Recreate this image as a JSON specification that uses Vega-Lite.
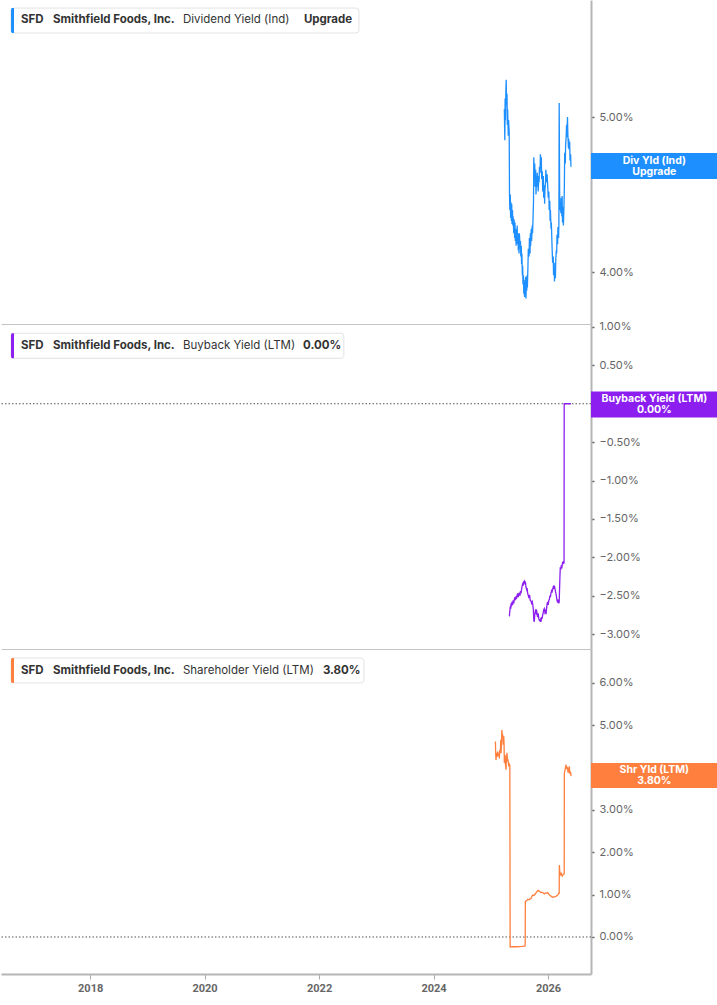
{
  "$schema": "https://vega.github.io/schema/vega-lite/v6.json",
  "padding": 0,
  "background": "white",
  "spacing": 0,
  "bounds": "flush",
  "config": {
    "font": "Inter",
    "view": {"stroke": null},
    "axis": {"grid": false},
    "axisY": {"domainColor": "#b5b5b5", "domainWidth": 2, "tickColor": "#666", "tickSize": 3, "tickWidth": 1.5, "labelPadding": 5, "labelFont": "Inter", "labelFontSize": 11, "labelColor": "#666"},
    "axisX": {"domainColor": "#c4c4c4", "domainWidth": 1}
  },
  "datasets": {
    "div": [
      {"d":"2025-03-28","v":5.05},{"d":"2025-03-31","v":4.85},{"d":"2025-04-02","v":5.12},{"d":"2025-04-04","v":4.98},{"d":"2025-04-07","v":5.18},{"d":"2025-04-09","v":5.24},{"d":"2025-04-11","v":5.08},{"d":"2025-04-14","v":5.15},{"d":"2025-04-16","v":4.95},{"d":"2025-04-18","v":5.05},{"d":"2025-04-22","v":4.88},{"d":"2025-04-24","v":4.98},{"d":"2025-04-28","v":4.90},
      {"d":"2025-04-30","v":4.50},{"d":"2025-05-02","v":4.40},{"d":"2025-05-05","v":4.50},{"d":"2025-05-07","v":4.35},{"d":"2025-05-09","v":4.45},{"d":"2025-05-12","v":4.33},{"d":"2025-05-14","v":4.44},{"d":"2025-05-16","v":4.31},{"d":"2025-05-19","v":4.40},{"d":"2025-05-21","v":4.30},{"d":"2025-05-23","v":4.36},{"d":"2025-05-27","v":4.25},{"d":"2025-05-29","v":4.34},
      {"d":"2025-06-02","v":4.22},{"d":"2025-06-04","v":4.32},{"d":"2025-06-06","v":4.20},{"d":"2025-06-09","v":4.28},{"d":"2025-06-11","v":4.17},{"d":"2025-06-13","v":4.26},{"d":"2025-06-16","v":4.21},{"d":"2025-06-18","v":4.30},{"d":"2025-06-20","v":4.18},{"d":"2025-06-23","v":4.25},{"d":"2025-06-25","v":4.14},{"d":"2025-06-27","v":4.22},{"d":"2025-06-30","v":4.12},
      {"d":"2025-07-02","v":4.25},{"d":"2025-07-07","v":4.15},{"d":"2025-07-09","v":4.20},{"d":"2025-07-11","v":4.10},{"d":"2025-07-14","v":4.17},{"d":"2025-07-16","v":4.05},{"d":"2025-07-18","v":4.12},{"d":"2025-07-21","v":3.98},{"d":"2025-07-23","v":4.04},{"d":"2025-07-25","v":3.92},{"d":"2025-07-28","v":3.98},{"d":"2025-07-30","v":3.86},
      {"d":"2025-08-01","v":3.95},{"d":"2025-08-04","v":3.84},{"d":"2025-08-06","v":3.93},{"d":"2025-08-08","v":3.87},{"d":"2025-08-11","v":3.97},{"d":"2025-08-13","v":3.83},{"d":"2025-08-15","v":3.92},{"d":"2025-08-18","v":3.88},{"d":"2025-08-20","v":3.98},{"d":"2025-08-22","v":3.90},{"d":"2025-08-26","v":4.05},{"d":"2025-08-28","v":4.15},
      {"d":"2025-09-02","v":4.10},{"d":"2025-09-04","v":4.22},{"d":"2025-09-08","v":4.12},{"d":"2025-09-10","v":4.25},{"d":"2025-09-12","v":4.17},{"d":"2025-09-16","v":4.28},{"d":"2025-09-18","v":4.20},{"d":"2025-09-22","v":4.30},{"d":"2025-09-24","v":4.25},{"d":"2025-09-26","v":4.31},{"d":"2025-09-30","v":4.45},
      {"d":"2025-10-02","v":4.74},{"d":"2025-10-06","v":4.60},{"d":"2025-10-08","v":4.70},{"d":"2025-10-10","v":4.55},{"d":"2025-10-14","v":4.66},{"d":"2025-10-16","v":4.50},{"d":"2025-10-20","v":4.62},{"d":"2025-10-22","v":4.55},{"d":"2025-10-24","v":4.64},{"d":"2025-10-28","v":4.57},{"d":"2025-10-30","v":4.52},
      {"d":"2025-11-03","v":4.62},{"d":"2025-11-05","v":4.58},{"d":"2025-11-07","v":4.68},{"d":"2025-11-11","v":4.64},{"d":"2025-11-13","v":4.76},{"d":"2025-11-17","v":4.70},{"d":"2025-11-19","v":4.74},{"d":"2025-11-21","v":4.60},{"d":"2025-11-25","v":4.65},{"d":"2025-11-28","v":4.52},
      {"d":"2025-12-02","v":4.62},{"d":"2025-12-04","v":4.48},{"d":"2025-12-08","v":4.56},{"d":"2025-12-10","v":4.44},{"d":"2025-12-12","v":4.53},{"d":"2025-12-16","v":4.58},{"d":"2025-12-18","v":4.66},{"d":"2025-12-22","v":4.58},{"d":"2025-12-26","v":4.63},{"d":"2025-12-30","v":4.55},
      {"d":"2026-01-02","v":4.48},{"d":"2026-01-06","v":4.52},{"d":"2026-01-08","v":4.40},{"d":"2026-01-12","v":4.46},{"d":"2026-01-14","v":4.33},{"d":"2026-01-16","v":4.40},{"d":"2026-01-20","v":4.28},{"d":"2026-01-22","v":4.32},{"d":"2026-01-26","v":4.18},{"d":"2026-01-28","v":4.12},{"d":"2026-01-30","v":4.06},
      {"d":"2026-02-03","v":4.10},{"d":"2026-02-05","v":3.98},{"d":"2026-02-09","v":4.06},{"d":"2026-02-11","v":3.94},{"d":"2026-02-13","v":4.02},{"d":"2026-02-17","v":3.96},{"d":"2026-02-19","v":4.08},{"d":"2026-02-23","v":4.14},{"d":"2026-02-25","v":4.12},{"d":"2026-02-27","v":4.24},
      {"d":"2026-03-03","v":4.18},{"d":"2026-03-05","v":4.29},{"d":"2026-03-09","v":4.22},{"d":"2026-03-11","v":4.30},{"d":"2026-03-13","v":5.09},{"d":"2026-03-16","v":4.50},{"d":"2026-03-18","v":4.40},{"d":"2026-03-20","v":4.44},{"d":"2026-03-24","v":4.38},{"d":"2026-03-26","v":4.48},{"d":"2026-03-30","v":4.36},
      {"d":"2026-04-01","v":4.49},{"d":"2026-04-03","v":4.32},{"d":"2026-04-07","v":4.42},{"d":"2026-04-09","v":4.30},{"d":"2026-04-13","v":4.45},{"d":"2026-04-15","v":4.55},{"d":"2026-04-17","v":4.77},{"d":"2026-04-21","v":4.70},{"d":"2026-04-23","v":4.82},{"d":"2026-04-27","v":4.88},{"d":"2026-04-29","v":4.95},
      {"d":"2026-05-01","v":4.87},{"d":"2026-05-05","v":5.00},{"d":"2026-05-07","v":4.90},{"d":"2026-05-11","v":4.80},{"d":"2026-05-13","v":4.86},{"d":"2026-05-15","v":4.79},{"d":"2026-05-19","v":4.84},{"d":"2026-05-21","v":4.72},{"d":"2026-05-25","v":4.76},{"d":"2026-05-27","v":4.68}
    ],
    "bb": [
      {"d":"2025-04-29","v":-2.77},{"d":"2025-05-02","v":-2.70},{"d":"2025-05-05","v":-2.64},{"d":"2025-05-08","v":-2.67},{"d":"2025-05-10","v":-2.60},{"d":"2025-05-13","v":-2.64},{"d":"2025-05-16","v":-2.58},{"d":"2025-05-20","v":-2.62},{"d":"2025-05-23","v":-2.56},{"d":"2025-05-27","v":-2.60},{"d":"2025-05-31","v":-2.55},
      {"d":"2025-06-04","v":-2.52},{"d":"2025-06-07","v":-2.56},{"d":"2025-06-10","v":-2.51},{"d":"2025-06-14","v":-2.54},{"d":"2025-06-18","v":-2.49},{"d":"2025-06-21","v":-2.47},{"d":"2025-06-25","v":-2.52},{"d":"2025-06-28","v":-2.49},
      {"d":"2025-07-02","v":-2.46},{"d":"2025-07-06","v":-2.50},{"d":"2025-07-09","v":-2.44},{"d":"2025-07-12","v":-2.47},{"d":"2025-07-16","v":-2.42},{"d":"2025-07-19","v":-2.38},{"d":"2025-07-23","v":-2.35},{"d":"2025-07-26","v":-2.37},{"d":"2025-07-30","v":-2.32},
      {"d":"2025-08-03","v":-2.31},{"d":"2025-08-06","v":-2.34},{"d":"2025-08-10","v":-2.33},{"d":"2025-08-13","v":-2.39},{"d":"2025-08-17","v":-2.42},{"d":"2025-08-20","v":-2.40},{"d":"2025-08-24","v":-2.47},{"d":"2025-08-28","v":-2.50},
      {"d":"2025-09-01","v":-2.53},{"d":"2025-09-05","v":-2.49},{"d":"2025-09-09","v":-2.56},{"d":"2025-09-14","v":-2.57},{"d":"2025-09-18","v":-2.60},{"d":"2025-09-22","v":-2.58},{"d":"2025-09-25","v":-2.61},{"d":"2025-09-29","v":-2.68},
      {"d":"2025-10-02","v":-2.82},{"d":"2025-10-05","v":-2.84},{"d":"2025-10-08","v":-2.75},{"d":"2025-10-12","v":-2.70},{"d":"2025-10-16","v":-2.72},{"d":"2025-10-19","v":-2.68},{"d":"2025-10-23","v":-2.74},{"d":"2025-10-26","v":-2.78},{"d":"2025-10-30","v":-2.73},
      {"d":"2025-11-03","v":-2.80},{"d":"2025-11-06","v":-2.82},{"d":"2025-11-10","v":-2.83},{"d":"2025-11-14","v":-2.81},{"d":"2025-11-17","v":-2.84},{"d":"2025-11-21","v":-2.78},{"d":"2025-11-24","v":-2.80},{"d":"2025-11-27","v":-2.76},
      {"d":"2025-12-01","v":-2.72},{"d":"2025-12-05","v":-2.68},{"d":"2025-12-08","v":-2.67},{"d":"2025-12-12","v":-2.72},{"d":"2025-12-16","v":-2.70},{"d":"2025-12-19","v":-2.74},{"d":"2025-12-23","v":-2.66},{"d":"2025-12-26","v":-2.61},{"d":"2025-12-29","v":-2.58},
      {"d":"2026-01-02","v":-2.62},{"d":"2026-01-06","v":-2.56},{"d":"2026-01-09","v":-2.55},{"d":"2026-01-13","v":-2.50},{"d":"2026-01-16","v":-2.52},{"d":"2026-01-19","v":-2.47},{"d":"2026-01-23","v":-2.44},{"d":"2026-01-26","v":-2.46},{"d":"2026-01-30","v":-2.42},
      {"d":"2026-02-03","v":-2.39},{"d":"2026-02-06","v":-2.41},{"d":"2026-02-10","v":-2.37},{"d":"2026-02-13","v":-2.40},{"d":"2026-02-17","v":-2.44},{"d":"2026-02-20","v":-2.47},{"d":"2026-02-24","v":-2.52},{"d":"2026-02-27","v":-2.56},
      {"d":"2026-03-03","v":-2.59},{"d":"2026-03-06","v":-2.55},{"d":"2026-03-10","v":-2.60},{"d":"2026-03-13","v":-2.58},{"d":"2026-03-17","v":-2.30},{"d":"2026-03-20","v":-2.13},{"d":"2026-03-24","v":-2.16},{"d":"2026-03-27","v":-2.10},{"d":"2026-03-31","v":-2.12},
      {"d":"2026-04-04","v":-2.06},{"d":"2026-04-07","v":-2.09},{"d":"2026-04-10","v":-2.05},{"d":"2026-04-13","v":-2.08},{"d":"2026-04-14","v":0.00},{"d":"2026-04-20","v":0.00},{"d":"2026-05-27","v":0.00}
    ],
    "shr": [
      {"d":"2025-01-30","v":4.62},{"d":"2025-02-01","v":4.30},{"d":"2025-02-03","v":4.18},{"d":"2025-02-06","v":4.35},{"d":"2025-02-10","v":4.26},{"d":"2025-02-14","v":4.38},{"d":"2025-02-18","v":4.28},{"d":"2025-02-21","v":4.33},{"d":"2025-02-24","v":4.22},{"d":"2025-02-27","v":4.42},
      {"d":"2025-03-03","v":4.36},{"d":"2025-03-05","v":4.66},{"d":"2025-03-07","v":4.34},{"d":"2025-03-10","v":4.60},{"d":"2025-03-12","v":4.89},{"d":"2025-03-14","v":4.80},{"d":"2025-03-17","v":4.78},{"d":"2025-03-19","v":4.72},{"d":"2025-03-21","v":4.54},{"d":"2025-03-24","v":4.74},{"d":"2025-03-26","v":4.60},{"d":"2025-03-28","v":4.11},{"d":"2025-03-31","v":4.22},
      {"d":"2025-04-02","v":4.30},{"d":"2025-04-04","v":4.08},{"d":"2025-04-08","v":3.95},{"d":"2025-04-10","v":4.20},{"d":"2025-04-14","v":4.35},{"d":"2025-04-17","v":4.15},{"d":"2025-04-19","v":4.20},{"d":"2025-04-23","v":4.10},{"d":"2025-04-25","v":4.03},{"d":"2025-04-29","v":4.08},
      {"d":"2025-05-02","v":4.05},{"d":"2025-05-04","v":-0.23},{"d":"2025-06-15","v":-0.23},{"d":"2025-07-20","v":-0.22},{"d":"2025-08-08","v":-0.21},
      {"d":"2025-08-09","v":0.84},{"d":"2025-08-18","v":0.86},{"d":"2025-08-25","v":0.89},{"d":"2025-09-01","v":0.88},{"d":"2025-09-08","v":0.90},{"d":"2025-09-14","v":0.91},{"d":"2025-09-20","v":0.96},{"d":"2025-09-25","v":0.99},
      {"d":"2025-10-03","v":0.98},{"d":"2025-10-10","v":1.01},{"d":"2025-10-17","v":1.05},{"d":"2025-10-24","v":1.08},{"d":"2025-10-28","v":1.10},{"d":"2025-11-03","v":1.09},{"d":"2025-11-10","v":1.07},{"d":"2025-11-17","v":1.05},{"d":"2025-11-24","v":1.06},
      {"d":"2025-12-01","v":1.04},{"d":"2025-12-08","v":1.02},{"d":"2025-12-15","v":1.04},{"d":"2025-12-22","v":1.03},{"d":"2025-12-30","v":1.05},{"d":"2026-01-06","v":1.01},{"d":"2026-01-14","v":0.98},{"d":"2026-01-22","v":0.96},{"d":"2026-01-31","v":0.94},
      {"d":"2026-02-10","v":0.95},{"d":"2026-02-20","v":0.96},{"d":"2026-03-04","v":0.99},{"d":"2026-03-10","v":1.03},{"d":"2026-03-13","v":1.03},{"d":"2026-03-14","v":1.70},{"d":"2026-03-17","v":1.52},{"d":"2026-03-20","v":1.47},{"d":"2026-03-25","v":1.51},
      {"d":"2026-04-01","v":1.44},{"d":"2026-04-08","v":1.48},{"d":"2026-04-14","v":1.49},{"d":"2026-04-15","v":3.87},{"d":"2026-04-18","v":3.92},{"d":"2026-04-22","v":4.00},{"d":"2026-04-26","v":4.07},{"d":"2026-04-29","v":3.97},
      {"d":"2026-05-03","v":4.02},{"d":"2026-05-06","v":3.95},{"d":"2026-05-10","v":3.88},{"d":"2026-05-13","v":3.98},{"d":"2026-05-17","v":4.03},{"d":"2026-05-20","v":3.85},{"d":"2026-05-24","v":3.91},{"d":"2026-05-28","v":3.80}
    ]
  },
  "vconcat": [
    {
      "width": 590, "height": 324,
      "layer": [
        {"data": {"values": [{}]}, "mark": {"type": "rect", "fill": "white", "stroke": "#e2e2e2", "strokeWidth": 1, "cornerRadius": 3},
         "encoding": {"x": {"datum": {"year": 2016, "month": 8, "date": 14}, "type": "temporal"}, "x2": {"datum": {"year": 2022, "month": 9, "date": 12}}, "y": {"datum": 5.703}, "y2": {"datum": 5.542}}},
        {"data": {"values": [{}]}, "mark": {"type": "rect", "fill": "#1e8fff", "cornerRadiusTopLeft": 2, "cornerRadiusBottomLeft": 2},
         "encoding": {"x": {"datum": {"year": 2016, "month": 8, "date": 14}, "type": "temporal"}, "x2": {"datum": {"year": 2016, "month": 9, "date": 2}}, "y": {"datum": 5.703}, "y2": {"datum": 5.542}}},
        {"data": {"values": [{}]}, "mark": {"type": "text", "text": "SFD", "fontWeight": "bold", "fontSize": 11.5, "align": "left", "baseline": "middle", "color": "#333"},
         "encoding": {"x": {"datum": {"year": 2016, "month": 10, "date": 17}, "type": "temporal"}, "y": {"datum": 5.623}}},
        {"data": {"values": [{}]}, "mark": {"type": "text", "text": "Smithfield Foods, Inc.", "fontWeight": "bold", "fontSize": 11.5, "align": "left", "baseline": "middle", "color": "#333"},
         "encoding": {"x": {"datum": {"year": 2017, "month": 5, "date": 9}, "type": "temporal"}, "y": {"datum": 5.623}}},
        {"data": {"values": [{}]}, "mark": {"type": "text", "text": "Dividend Yield (Ind)", "fontSize": 11.5, "align": "left", "baseline": "middle", "color": "#333"},
         "encoding": {"x": {"datum": {"year": 2019, "month": 8, "date": 16}, "type": "temporal"}, "y": {"datum": 5.623}}},
        {"data": {"values": [{}]}, "mark": {"type": "text", "text": "Upgrade", "fontWeight": "bold", "fontSize": 11.5, "align": "left", "baseline": "middle", "color": "#333"},
         "encoding": {"x": {"datum": {"year": 2021, "month": 9, "date": 26}, "type": "temporal"}, "y": {"datum": 5.623}}},
        {"data": {"name": "div"}, "mark": {"type": "line", "strokeWidth": 1.3, "color": "#1e8fff"},
         "encoding": {
           "x": {"field": "d", "type": "temporal", "scale": {"domain": [{"year": 2016, "month": 6, "date": 11}, {"year": 2026, "month": 10, "date": 2}]}, "axis": {"title": null, "labels": false, "ticks": false}},
           "y": {"field": "v", "type": "quantitative", "scale": {"domain": [3.665, 5.755], "nice": false, "zero": false}, "axis": {"title": null, "orient": "right", "values": [4, 5], "labelExpr": "format(datum.value, '.2f') + '%'"}}
         }},
        {"data": {"values": [{}]}, "mark": {"type": "rect", "fill": "#1e8fff"},
         "encoding": {"x": {"datum": {"year": 2026, "month": 10, "date": 2}, "type": "temporal"}, "x2": {"datum": {"year": 2028, "month": 12, "date": 19}}, "y": {"datum": 4.768}, "y2": {"datum": 4.600}}},
        {"data": {"values": [{}]}, "mark": {"type": "text", "text": "Div Yld (Ind)", "fontWeight": "bold", "fontSize": 10.5, "align": "center", "baseline": "middle", "color": "white", "dy": -5.5},
         "encoding": {"x": {"datum": {"year": 2027, "month": 11, "date": 10}, "type": "temporal"}, "y": {"datum": 4.684}}},
        {"data": {"values": [{}]}, "mark": {"type": "text", "text": "Upgrade", "fontWeight": "bold", "fontSize": 10.5, "align": "center", "baseline": "middle", "color": "white", "dy": 5.5},
         "encoding": {"x": {"datum": {"year": 2027, "month": 11, "date": 10}, "type": "temporal"}, "y": {"datum": 4.684}}}
      ]
    },
    {
      "width": 590, "height": 325,
      "layer": [
        {"data": {"values": [{}]}, "mark": {"type": "rect", "fill": "white", "stroke": "#e2e2e2", "strokeWidth": 1, "cornerRadius": 3},
         "encoding": {"x": {"datum": {"year": 2016, "month": 8, "date": 14}, "type": "temporal"}, "x2": {"datum": {"year": 2022, "month": 6, "date": 8}}, "y": {"datum": 0.918}, "y2": {"datum": 0.592}}},
        {"data": {"values": [{}]}, "mark": {"type": "rect", "fill": "#8c1ef0", "cornerRadiusTopLeft": 2, "cornerRadiusBottomLeft": 2},
         "encoding": {"x": {"datum": {"year": 2016, "month": 8, "date": 14}, "type": "temporal"}, "x2": {"datum": {"year": 2016, "month": 9, "date": 2}}, "y": {"datum": 0.918}, "y2": {"datum": 0.592}}},
        {"data": {"values": [{}]}, "mark": {"type": "text", "text": "SFD", "fontWeight": "bold", "fontSize": 11.5, "align": "left", "baseline": "middle", "color": "#333"},
         "encoding": {"x": {"datum": {"year": 2016, "month": 10, "date": 17}, "type": "temporal"}, "y": {"datum": 0.755}}},
        {"data": {"values": [{}]}, "mark": {"type": "text", "text": "Smithfield Foods, Inc.", "fontWeight": "bold", "fontSize": 11.5, "align": "left", "baseline": "middle", "color": "#333"},
         "encoding": {"x": {"datum": {"year": 2017, "month": 5, "date": 9}, "type": "temporal"}, "y": {"datum": 0.755}}},
        {"data": {"values": [{}]}, "mark": {"type": "text", "text": "Buyback Yield (LTM)", "fontSize": 11.5, "align": "left", "baseline": "middle", "color": "#333"},
         "encoding": {"x": {"datum": {"year": 2019, "month": 8, "date": 16}, "type": "temporal"}, "y": {"datum": 0.755}}},
        {"data": {"values": [{}]}, "mark": {"type": "text", "text": "0.00%", "fontWeight": "bold", "fontSize": 11.5, "align": "left", "baseline": "middle", "color": "#333"},
         "encoding": {"x": {"datum": {"year": 2021, "month": 9, "date": 20}, "type": "temporal"}, "y": {"datum": 0.755}}},
        {"data": {"values": [{}]}, "mark": {"type": "rule", "color": "#555", "strokeWidth": 1, "strokeDash": [1.5, 2]},
         "encoding": {"y": {"datum": 0}}},
        {"data": {"name": "bb"}, "mark": {"type": "line", "strokeWidth": 1.3, "color": "#8c1ef0"},
         "encoding": {
           "x": {"field": "d", "type": "temporal", "scale": {"domain": [{"year": 2016, "month": 6, "date": 11}, {"year": 2026, "month": 10, "date": 2}]}, "axis": {"title": null, "labels": false, "ticks": false}},
           "y": {"field": "v", "type": "quantitative", "scale": {"domain": [-3.195, 1.039], "nice": false, "zero": false}, "axis": {"title": null, "orient": "right", "values": [1, 0.5, -0.5, -1, -1.5, -2, -2.5, -3], "labelExpr": "format(datum.value, '.2f') + '%'"}}
         }},
        {"data": {"values": [{}]}, "mark": {"type": "rect", "fill": "#8c1ef0"},
         "encoding": {"x": {"datum": {"year": 2026, "month": 10, "date": 2}, "type": "temporal"}, "x2": {"datum": {"year": 2028, "month": 12, "date": 19}}, "y": {"datum": 0.16}, "y2": {"datum": -0.18}}},
        {"data": {"values": [{}]}, "mark": {"type": "text", "text": "Buyback Yield (LTM)", "fontWeight": "bold", "fontSize": 10.5, "align": "center", "baseline": "middle", "color": "white", "dy": -5.5},
         "encoding": {"x": {"datum": {"year": 2027, "month": 11, "date": 10}, "type": "temporal"}, "y": {"datum": -0.01}}},
        {"data": {"values": [{}]}, "mark": {"type": "text", "text": "0.00%", "fontWeight": "bold", "fontSize": 10.5, "align": "center", "baseline": "middle", "color": "white", "dy": 5.5},
         "encoding": {"x": {"datum": {"year": 2027, "month": 11, "date": 10}, "type": "temporal"}, "y": {"datum": -0.01}}}
      ]
    },
    {
      "width": 590, "height": 325,
      "layer": [
        {"data": {"values": [{}]}, "mark": {"type": "rect", "fill": "white", "stroke": "#e2e2e2", "strokeWidth": 1, "cornerRadius": 3},
         "encoding": {"x": {"datum": {"year": 2016, "month": 8, "date": 14}, "type": "temporal"}, "x2": {"datum": {"year": 2022, "month": 10, "date": 14}}, "y": {"datum": 6.590}, "y2": {"datum": 6.000}}},
        {"data": {"values": [{}]}, "mark": {"type": "rect", "fill": "#ff7f3f", "cornerRadiusTopLeft": 2, "cornerRadiusBottomLeft": 2},
         "encoding": {"x": {"datum": {"year": 2016, "month": 8, "date": 14}, "type": "temporal"}, "x2": {"datum": {"year": 2016, "month": 9, "date": 2}}, "y": {"datum": 6.590}, "y2": {"datum": 6.000}}},
        {"data": {"values": [{}]}, "mark": {"type": "text", "text": "SFD", "fontWeight": "bold", "fontSize": 11.5, "align": "left", "baseline": "middle", "color": "#333"},
         "encoding": {"x": {"datum": {"year": 2016, "month": 10, "date": 17}, "type": "temporal"}, "y": {"datum": 6.295}}},
        {"data": {"values": [{}]}, "mark": {"type": "text", "text": "Smithfield Foods, Inc.", "fontWeight": "bold", "fontSize": 11.5, "align": "left", "baseline": "middle", "color": "#333"},
         "encoding": {"x": {"datum": {"year": 2017, "month": 5, "date": 9}, "type": "temporal"}, "y": {"datum": 6.295}}},
        {"data": {"values": [{}]}, "mark": {"type": "text", "text": "Shareholder Yield (LTM)", "fontSize": 11.5, "align": "left", "baseline": "middle", "color": "#333"},
         "encoding": {"x": {"datum": {"year": 2019, "month": 8, "date": 16}, "type": "temporal"}, "y": {"datum": 6.295}}},
        {"data": {"values": [{}]}, "mark": {"type": "text", "text": "3.80%", "fontWeight": "bold", "fontSize": 11.5, "align": "left", "baseline": "middle", "color": "#333"},
         "encoding": {"x": {"datum": {"year": 2022, "month": 1, "date": 25}, "type": "temporal"}, "y": {"datum": 6.295}}},
        {"data": {"values": [{}]}, "mark": {"type": "rule", "color": "#555", "strokeWidth": 1, "strokeDash": [1.5, 2]},
         "encoding": {"y": {"datum": 0}}},
        {"data": {"name": "shr"}, "mark": {"type": "line", "strokeWidth": 1.3, "color": "#ff7f3f"},
         "encoding": {
           "x": {"field": "d", "type": "temporal", "scale": {"domain": [{"year": 2016, "month": 6, "date": 11}, {"year": 2026, "month": 10, "date": 2}]}, "axis": {"title": null, "values": [{"year": 2018}, {"year": 2020}, {"year": 2022}, {"year": 2024}, {"year": 2026}], "format": "%Y", "domainColor": "#b5b5b5", "domainWidth": 2, "tickColor": "#aaa", "tickSize": 5, "labelPadding": 3, "labelFont": "Roboto", "labelFontSize": 11, "labelFontWeight": "bold", "labelColor": "#666"}},
           "y": {"field": "v", "type": "quantitative", "scale": {"domain": [-0.874, 6.803], "nice": false, "zero": false}, "axis": {"title": null, "orient": "right", "values": [0, 1, 2, 3, 5, 6], "labelExpr": "format(datum.value, '.2f') + '%'"}}
         }},
        {"data": {"values": [{}]}, "mark": {"type": "rect", "fill": "#ff7f3f"},
         "encoding": {"x": {"datum": {"year": 2026, "month": 10, "date": 2}, "type": "temporal"}, "x2": {"datum": {"year": 2028, "month": 12, "date": 19}}, "y": {"datum": 4.110}, "y2": {"datum": 3.519}}},
        {"data": {"values": [{}]}, "mark": {"type": "text", "text": "Shr Yld (LTM)", "fontWeight": "bold", "fontSize": 10.5, "align": "center", "baseline": "middle", "color": "white", "dy": -5.5},
         "encoding": {"x": {"datum": {"year": 2027, "month": 11, "date": 10}, "type": "temporal"}, "y": {"datum": 3.815}}},
        {"data": {"values": [{}]}, "mark": {"type": "text", "text": "3.80%", "fontWeight": "bold", "fontSize": 10.5, "align": "center", "baseline": "middle", "color": "white", "dy": 5.5},
         "encoding": {"x": {"datum": {"year": 2027, "month": 11, "date": 10}, "type": "temporal"}, "y": {"datum": 3.815}}}
      ]
    }
  ]
}
